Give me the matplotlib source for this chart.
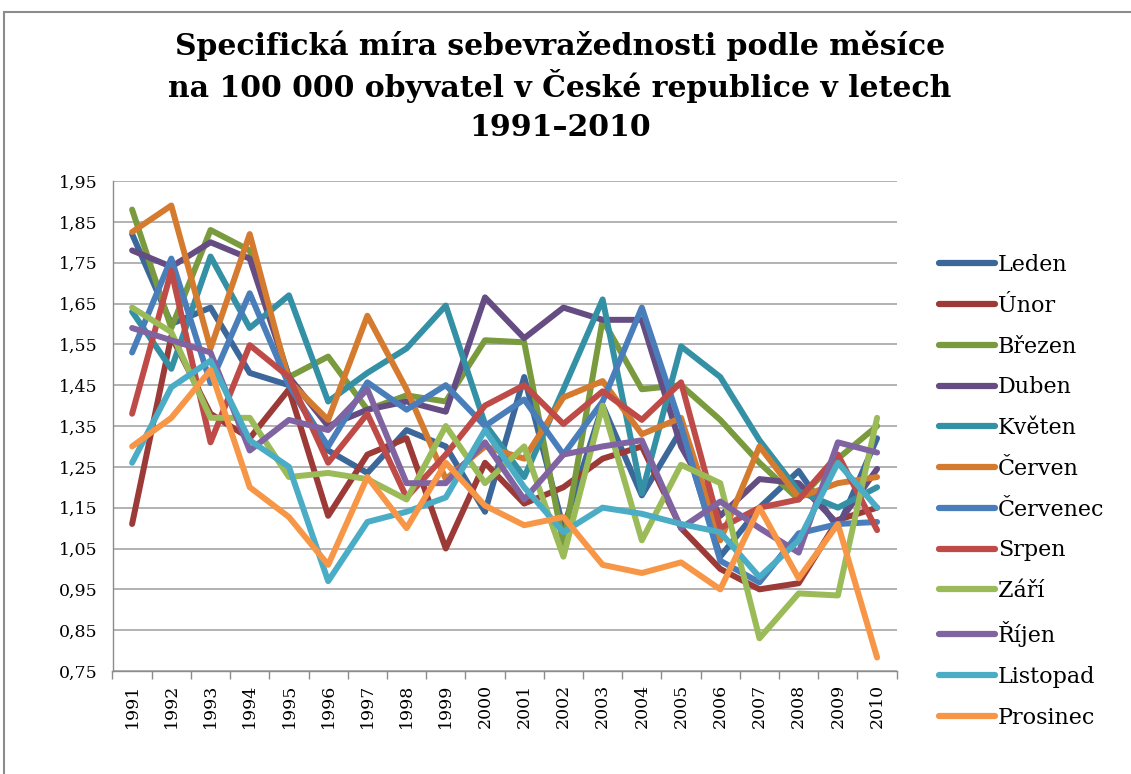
import matplotlib
matplotlib.use("Agg")
import matplotlib.pyplot as plt
from matplotlib.patches import Rectangle
from matplotlib.ticker import FixedLocator, NullFormatter

years = [str(y) for y in range(1991, 2011)]
months = ["Leden", "Únor", "Březen", "Duben", "Květen", "Červen",
          "Červenec", "Srpen", "Září", "Říjen", "Listopad", "Prosinec"]

leden = [1.82, 1.60, 1.64, 1.48, 1.45, 1.29, 1.235, 1.34, 1.30, 1.14, 1.47, 1.10, 1.40, 1.18, 1.34, 1.03, 1.15, 1.24, 1.10, 1.32]
unor = [1.11, 1.57, 1.38, 1.32, 1.44, 1.13, 1.28, 1.32, 1.05, 1.26, 1.16, 1.20, 1.27, 1.30, 1.10, 1.00, 0.95, 0.965, 1.12, 1.15]
brezen = [1.88, 1.59, 1.83, 1.78, 1.47, 1.52, 1.39, 1.425, 1.41, 1.56, 1.555, 1.06, 1.61, 1.44, 1.45, 1.365, 1.26, 1.17, 1.27, 1.35]
duben = [1.78, 1.74, 1.80, 1.76, 1.47, 1.35, 1.39, 1.41, 1.385, 1.665, 1.565, 1.64, 1.61, 1.61, 1.30, 1.13, 1.22, 1.21, 1.11, 1.245]
kveten = [1.63, 1.49, 1.765, 1.59, 1.67, 1.41, 1.48, 1.54, 1.645, 1.355, 1.225, 1.44, 1.66, 1.185, 1.545, 1.47, 1.315, 1.19, 1.15, 1.20]
cerven = [1.825, 1.89, 1.54, 1.82, 1.46, 1.365, 1.62, 1.44, 1.22, 1.30, 1.27, 1.42, 1.46, 1.33, 1.37, 1.07, 1.30, 1.175, 1.21, 1.225]
cervenec = [1.53, 1.76, 1.455, 1.675, 1.45, 1.30, 1.457, 1.39, 1.45, 1.35, 1.415, 1.28, 1.41, 1.64, 1.35, 1.02, 0.967, 1.087, 1.11, 1.115]
srpen = [1.38, 1.73, 1.31, 1.548, 1.47, 1.26, 1.38, 1.175, 1.28, 1.40, 1.45, 1.355, 1.435, 1.365, 1.457, 1.10, 1.15, 1.17, 1.28, 1.095]
zari = [1.64, 1.58, 1.37, 1.37, 1.225, 1.235, 1.22, 1.17, 1.35, 1.21, 1.30, 1.03, 1.40, 1.07, 1.255, 1.21, 0.83, 0.94, 0.935, 1.37]
rijen = [1.59, 1.56, 1.53, 1.29, 1.365, 1.34, 1.44, 1.21, 1.21, 1.31, 1.17, 1.28, 1.30, 1.315, 1.10, 1.165, 1.10, 1.04, 1.31, 1.285]
listopad = [1.26, 1.445, 1.51, 1.315, 1.25, 0.97, 1.115, 1.14, 1.175, 1.34, 1.20, 1.09, 1.15, 1.135, 1.11, 1.09, 0.98, 1.07, 1.26, 1.15]
prosinec = [1.30, 1.37, 1.487, 1.20, 1.127, 1.01, 1.225, 1.10, 1.26, 1.155, 1.107, 1.127, 1.01, 0.99, 1.016, 0.95, 1.15, 0.977, 1.11, 0.783]

series = [leden, unor, brezen, duben, kveten, cerven, cervenec, srpen, zari, rijen, listopad, prosinec]
colors = ["#3C679A", "#9B3A37", "#7A9A3E", "#654C82", "#3490A5", "#D57B30",
          "#4A7EBB", "#BE4B48", "#9BBB59", "#8064A2", "#4BACC6", "#F79646"]

yticks = [0.75, 0.85, 0.95, 1.05, 1.15, 1.25, 1.35, 1.45, 1.55, 1.65, 1.75, 1.85, 1.95]
title_lines = ["Specifická míra sebevražednosti podle měsíce",
               "na 100 000 obyvatel v České republice v letech",
               "1991–2010"]

W, H = 1131, 774
SERIF = "DejaVu Serif"
fig = plt.figure(figsize=(W / 100, H / 100), dpi=100)
fig.patch.set_facecolor("white")

# outer chart frame
fig.add_artist(Rectangle((4 / W, -0.01), 1.2, 1 - 12 / H + 0.01, transform=fig.transFigure,
                         fill=False, edgecolor="#8C8C8C", linewidth=1.5))

ax = fig.add_axes([112.5 / W, 1 - 671 / H, (896.7 - 112.5) / W, (671 - 181) / H])
x = list(range(len(years)))
for vals, name, c in zip(series, months, colors):
    ax.plot(x, vals, color=c, linewidth=4.3, solid_joinstyle="round",
            solid_capstyle="round", label=name)

ax.set_xlim(-0.5, len(years) - 0.5)
ax.set_ylim(0.75, 1.95)
ax.set_yticks(yticks)
ax.set_yticklabels([f"{v:.2f}".replace(".", ",") for v in yticks],
                   fontfamily=SERIF, fontsize=12.5)
ax.yaxis.grid(True, color="#A6A6A6", linewidth=1.2)
ax.set_axisbelow(True)
ax.tick_params(axis="y", length=0, pad=11)

ax.set_xticks(x)
ax.set_xticklabels(years, rotation=90, fontfamily=SERIF, fontsize=12.5)
ax.xaxis.set_minor_locator(FixedLocator([i - 0.5 for i in range(len(years) + 1)]))
ax.xaxis.set_minor_formatter(NullFormatter())
ax.tick_params(axis="x", which="major", length=0, pad=9)
ax.tick_params(axis="x", which="minor", length=6, width=1, color="#8C8C8C")

for s in ["top", "right"]:
    ax.spines[s].set_visible(False)
ax.spines["bottom"].set_color("#8C8C8C")
ax.spines["left"].set_color("#8C8C8C")
ax.spines["left"].set_linewidth(1.0)
ax.spines["bottom"].set_linewidth(1.0)

leg = fig.legend(loc="upper left", bbox_to_anchor=(939 / W, 1 - 254 / H), frameon=False,
                 prop={"family": SERIF, "size": 16}, handlelength=2.5,
                 handletextpad=0.15, labelspacing=0.845, borderaxespad=0, borderpad=0)
for h in leg.get_lines():
    h.set_linewidth(4.5)
    h.set_solid_capstyle("round")

for yy, line in zip([46, 86, 127], title_lines):
    fig.text(560 / W, 1 - yy / H, line, ha="center", va="center", fontsize=21.5,
             fontweight="bold", fontfamily=SERIF)

fig.savefig("out.png", dpi=100)
